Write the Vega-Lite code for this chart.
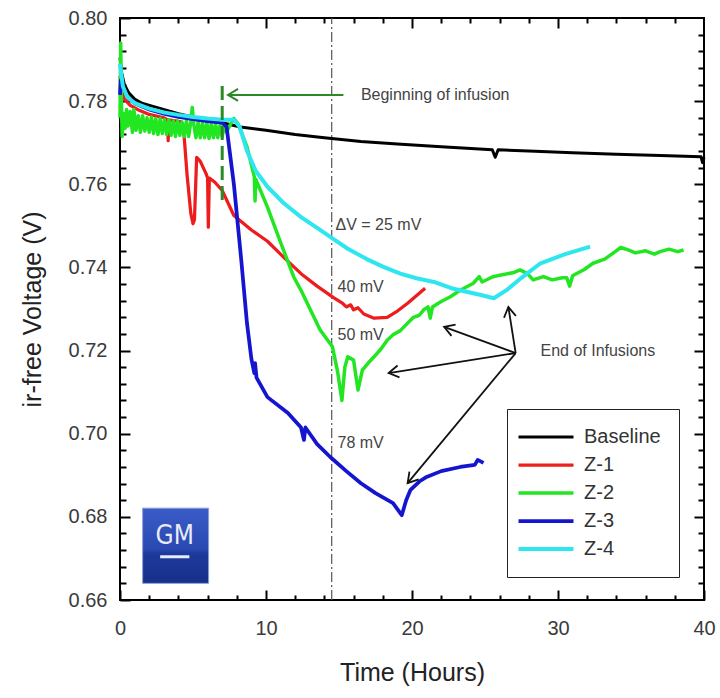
{
  "$schema": "https://vega.github.io/schema/vega-lite/v6.json",
  "width": 584,
  "height": 582,
  "autosize": {"type": "none"},
  "padding": {"left": 120, "top": 18, "right": 16, "bottom": 98},
  "background": "white",
  "config": {
    "view": {"stroke": "black", "strokeWidth": 2},
    "font": "Liberation Sans",
    "axis": {"grid": false, "domain": false, "tickColor": "black", "tickWidth": 2, "labelFlush": false, "labelOverlap": false}
  },
  "datasets": {
    "series": [
      {"s": "Baseline", "t": 0, "v": 0.7905}, {"s": "Baseline", "t": 0.1, "v": 0.787}, {"s": "Baseline", "t": 0.3, "v": 0.784}, {"s": "Baseline", "t": 0.6, "v": 0.782}, {"s": "Baseline", "t": 1, "v": 0.7805}, {"s": "Baseline", "t": 1.5, "v": 0.7795}, {"s": "Baseline", "t": 2.5, "v": 0.7785}, {"s": "Baseline", "t": 4, "v": 0.777}, {"s": "Baseline", "t": 5.5, "v": 0.7758}, {"s": "Baseline", "t": 7, "v": 0.7748}, {"s": "Baseline", "t": 8.25, "v": 0.7738}, {"s": "Baseline", "t": 10, "v": 0.773}, {"s": "Baseline", "t": 12, "v": 0.772}, {"s": "Baseline", "t": 14, "v": 0.7712}, {"s": "Baseline", "t": 16.5, "v": 0.7703}, {"s": "Baseline", "t": 19, "v": 0.7697}, {"s": "Baseline", "t": 22, "v": 0.769}, {"s": "Baseline", "t": 25.5, "v": 0.7683}, {"s": "Baseline", "t": 25.7, "v": 0.7665}, {"s": "Baseline", "t": 25.9, "v": 0.7683}, {"s": "Baseline", "t": 28, "v": 0.768}, {"s": "Baseline", "t": 31, "v": 0.7676}, {"s": "Baseline", "t": 34, "v": 0.7672}, {"s": "Baseline", "t": 37, "v": 0.7669}, {"s": "Baseline", "t": 39.8, "v": 0.7666}, {"s": "Baseline", "t": 39.9, "v": 0.7652}, {"s": "Baseline", "t": 40, "v": 0.7665},

      {"s": "Z-1", "t": 0, "v": 0.786}, {"s": "Z-1", "t": 0.1, "v": 0.7825}, {"s": "Z-1", "t": 0.3, "v": 0.7805}, {"s": "Z-1", "t": 0.7, "v": 0.779}, {"s": "Z-1", "t": 1.2, "v": 0.778}, {"s": "Z-1", "t": 2, "v": 0.7768}, {"s": "Z-1", "t": 3, "v": 0.776}, {"s": "Z-1", "t": 3.25, "v": 0.7755}, {"s": "Z-1", "t": 3.3, "v": 0.7705}, {"s": "Z-1", "t": 3.35, "v": 0.7755}, {"s": "Z-1", "t": 4.2, "v": 0.775}, {"s": "Z-1", "t": 4.35, "v": 0.7735}, {"s": "Z-1", "t": 4.6, "v": 0.762}, {"s": "Z-1", "t": 4.85, "v": 0.753}, {"s": "Z-1", "t": 5.0, "v": 0.7505}, {"s": "Z-1", "t": 5.1, "v": 0.7515}, {"s": "Z-1", "t": 5.25, "v": 0.7665}, {"s": "Z-1", "t": 5.5, "v": 0.7655}, {"s": "Z-1", "t": 5.9, "v": 0.7625}, {"s": "Z-1", "t": 6.0, "v": 0.7615}, {"s": "Z-1", "t": 6.05, "v": 0.7497}, {"s": "Z-1", "t": 6.12, "v": 0.7615}, {"s": "Z-1", "t": 6.5, "v": 0.7605}, {"s": "Z-1", "t": 7, "v": 0.7585}, {"s": "Z-1", "t": 7.8, "v": 0.7525}, {"s": "Z-1", "t": 9, "v": 0.749}, {"s": "Z-1", "t": 10.1, "v": 0.7463}, {"s": "Z-1", "t": 11.2, "v": 0.7425}, {"s": "Z-1", "t": 12.4, "v": 0.7385}, {"s": "Z-1", "t": 13.5, "v": 0.7355}, {"s": "Z-1", "t": 14.6, "v": 0.7328}, {"s": "Z-1", "t": 15.2, "v": 0.7315}, {"s": "Z-1", "t": 15.5, "v": 0.7305}, {"s": "Z-1", "t": 15.8, "v": 0.731}, {"s": "Z-1", "t": 16, "v": 0.7298}, {"s": "Z-1", "t": 16.3, "v": 0.7303}, {"s": "Z-1", "t": 16.7, "v": 0.7288}, {"s": "Z-1", "t": 17.4, "v": 0.7278}, {"s": "Z-1", "t": 18.3, "v": 0.728}, {"s": "Z-1", "t": 19, "v": 0.7295}, {"s": "Z-1", "t": 19.7, "v": 0.7314}, {"s": "Z-1", "t": 20.3, "v": 0.7332}, {"s": "Z-1", "t": 20.9, "v": 0.735},

      {"s": "Z-2", "t": 0, "v": 0.776}, {"s": "Z-2", "t": 0.05, "v": 0.794}, {"s": "Z-2", "t": 0.1, "v": 0.779}, {"s": "Z-2", "t": 0.15, "v": 0.7715}, {"s": "Z-2", "t": 0.25, "v": 0.777}, {"s": "Z-2", "t": 0.35, "v": 0.7735}, {"s": "Z-2", "t": 0.45, "v": 0.778}, {"s": "Z-2", "t": 0.55, "v": 0.774}, {"s": "Z-2", "t": 0.7, "v": 0.7775}, {"s": "Z-2", "t": 0.85, "v": 0.7725}, {"s": "Z-2", "t": 0.95, "v": 0.778}, {"s": "Z-2", "t": 1.1, "v": 0.773}, {"s": "Z-2", "t": 1.25, "v": 0.7765}, {"s": "Z-2", "t": 1.4, "v": 0.7725}, {"s": "Z-2", "t": 1.55, "v": 0.7765}, {"s": "Z-2", "t": 1.7, "v": 0.7728}, {"s": "Z-2", "t": 1.85, "v": 0.776}, {"s": "Z-2", "t": 2.0, "v": 0.7725}, {"s": "Z-2", "t": 2.15, "v": 0.7762}, {"s": "Z-2", "t": 2.3, "v": 0.7722}, {"s": "Z-2", "t": 2.45, "v": 0.7758}, {"s": "Z-2", "t": 2.6, "v": 0.772}, {"s": "Z-2", "t": 2.75, "v": 0.7758}, {"s": "Z-2", "t": 2.9, "v": 0.7722}, {"s": "Z-2", "t": 3.05, "v": 0.7755}, {"s": "Z-2", "t": 3.2, "v": 0.772}, {"s": "Z-2", "t": 3.35, "v": 0.7755}, {"s": "Z-2", "t": 3.5, "v": 0.7718}, {"s": "Z-2", "t": 3.65, "v": 0.7752}, {"s": "Z-2", "t": 3.8, "v": 0.7715}, {"s": "Z-2", "t": 3.95, "v": 0.7752}, {"s": "Z-2", "t": 4.1, "v": 0.7718}, {"s": "Z-2", "t": 4.25, "v": 0.775}, {"s": "Z-2", "t": 4.4, "v": 0.7715}, {"s": "Z-2", "t": 4.55, "v": 0.7752}, {"s": "Z-2", "t": 4.7, "v": 0.7715}, {"s": "Z-2", "t": 4.85, "v": 0.775}, {"s": "Z-2", "t": 4.95, "v": 0.7785}, {"s": "Z-2", "t": 5.05, "v": 0.7745}, {"s": "Z-2", "t": 5.2, "v": 0.7712}, {"s": "Z-2", "t": 5.35, "v": 0.775}, {"s": "Z-2", "t": 5.5, "v": 0.7712}, {"s": "Z-2", "t": 5.65, "v": 0.7748}, {"s": "Z-2", "t": 5.8, "v": 0.7712}, {"s": "Z-2", "t": 5.95, "v": 0.7748}, {"s": "Z-2", "t": 6.1, "v": 0.771}, {"s": "Z-2", "t": 6.25, "v": 0.7746}, {"s": "Z-2", "t": 6.4, "v": 0.7712}, {"s": "Z-2", "t": 6.55, "v": 0.7745}, {"s": "Z-2", "t": 6.7, "v": 0.7712}, {"s": "Z-2", "t": 6.85, "v": 0.7742}, {"s": "Z-2", "t": 7.0, "v": 0.7715}, {"s": "Z-2", "t": 7.15, "v": 0.7742}, {"s": "Z-2", "t": 7.3, "v": 0.7725}, {"s": "Z-2", "t": 7.5, "v": 0.774}, {"s": "Z-2", "t": 7.8, "v": 0.7758}, {"s": "Z-2", "t": 8.1, "v": 0.7745}, {"s": "Z-2", "t": 8.7, "v": 0.769}, {"s": "Z-2", "t": 9.2, "v": 0.7618}, {"s": "Z-2", "t": 9.25, "v": 0.756}, {"s": "Z-2", "t": 9.3, "v": 0.7612}, {"s": "Z-2", "t": 10.1, "v": 0.7545}, {"s": "Z-2", "t": 11.0, "v": 0.746}, {"s": "Z-2", "t": 11.9, "v": 0.7377}, {"s": "Z-2", "t": 12.4, "v": 0.7345}, {"s": "Z-2", "t": 13.7, "v": 0.725}, {"s": "Z-2", "t": 14.55, "v": 0.7209}, {"s": "Z-2", "t": 14.9, "v": 0.715}, {"s": "Z-2", "t": 15.2, "v": 0.708}, {"s": "Z-2", "t": 15.4, "v": 0.716}, {"s": "Z-2", "t": 15.6, "v": 0.7185}, {"s": "Z-2", "t": 16.0, "v": 0.7177}, {"s": "Z-2", "t": 16.3, "v": 0.7105}, {"s": "Z-2", "t": 16.6, "v": 0.7153}, {"s": "Z-2", "t": 17.0, "v": 0.717}, {"s": "Z-2", "t": 17.4, "v": 0.7185}, {"s": "Z-2", "t": 17.9, "v": 0.7205}, {"s": "Z-2", "t": 18.3, "v": 0.7225}, {"s": "Z-2", "t": 18.7, "v": 0.7238}, {"s": "Z-2", "t": 19.2, "v": 0.7248}, {"s": "Z-2", "t": 19.7, "v": 0.7266}, {"s": "Z-2", "t": 20.1, "v": 0.728}, {"s": "Z-2", "t": 20.5, "v": 0.7285}, {"s": "Z-2", "t": 20.8, "v": 0.7298}, {"s": "Z-2", "t": 21.1, "v": 0.7305}, {"s": "Z-2", "t": 21.25, "v": 0.7278}, {"s": "Z-2", "t": 21.4, "v": 0.7305}, {"s": "Z-2", "t": 22.0, "v": 0.7318}, {"s": "Z-2", "t": 22.6, "v": 0.7329}, {"s": "Z-2", "t": 23.3, "v": 0.7345}, {"s": "Z-2", "t": 24.2, "v": 0.7362}, {"s": "Z-2", "t": 24.6, "v": 0.7378}, {"s": "Z-2", "t": 24.8, "v": 0.7365}, {"s": "Z-2", "t": 25.5, "v": 0.7377}, {"s": "Z-2", "t": 26.1, "v": 0.7382}, {"s": "Z-2", "t": 27, "v": 0.7388}, {"s": "Z-2", "t": 27.4, "v": 0.7394}, {"s": "Z-2", "t": 27.9, "v": 0.7385}, {"s": "Z-2", "t": 28.3, "v": 0.737}, {"s": "Z-2", "t": 29, "v": 0.7378}, {"s": "Z-2", "t": 29.6, "v": 0.737}, {"s": "Z-2", "t": 30.3, "v": 0.7375}, {"s": "Z-2", "t": 30.6, "v": 0.7375}, {"s": "Z-2", "t": 30.8, "v": 0.7355}, {"s": "Z-2", "t": 31, "v": 0.738}, {"s": "Z-2", "t": 31.8, "v": 0.7395}, {"s": "Z-2", "t": 32.4, "v": 0.741}, {"s": "Z-2", "t": 33.2, "v": 0.742}, {"s": "Z-2", "t": 33.8, "v": 0.7435}, {"s": "Z-2", "t": 34.3, "v": 0.7448}, {"s": "Z-2", "t": 34.8, "v": 0.7442}, {"s": "Z-2", "t": 35.3, "v": 0.7435}, {"s": "Z-2", "t": 36, "v": 0.744}, {"s": "Z-2", "t": 36.6, "v": 0.7432}, {"s": "Z-2", "t": 37, "v": 0.7438}, {"s": "Z-2", "t": 37.6, "v": 0.7444}, {"s": "Z-2", "t": 38.2, "v": 0.7438}, {"s": "Z-2", "t": 38.6, "v": 0.7442},

      {"s": "Z-3", "t": 0, "v": 0.7815}, {"s": "Z-3", "t": 0.05, "v": 0.785}, {"s": "Z-3", "t": 0.2, "v": 0.7835}, {"s": "Z-3", "t": 0.5, "v": 0.781}, {"s": "Z-3", "t": 1, "v": 0.7795}, {"s": "Z-3", "t": 2, "v": 0.778}, {"s": "Z-3", "t": 3, "v": 0.777}, {"s": "Z-3", "t": 4, "v": 0.7762}, {"s": "Z-3", "t": 5, "v": 0.7757}, {"s": "Z-3", "t": 6, "v": 0.7752}, {"s": "Z-3", "t": 7, "v": 0.7748}, {"s": "Z-3", "t": 7.3, "v": 0.7738}, {"s": "Z-3", "t": 7.8, "v": 0.76}, {"s": "Z-3", "t": 8.3, "v": 0.742}, {"s": "Z-3", "t": 8.7, "v": 0.7265}, {"s": "Z-3", "t": 9.0, "v": 0.718}, {"s": "Z-3", "t": 9.2, "v": 0.7146}, {"s": "Z-3", "t": 9.25, "v": 0.717}, {"s": "Z-3", "t": 9.35, "v": 0.7135}, {"s": "Z-3", "t": 10.1, "v": 0.7088}, {"s": "Z-3", "t": 11.5, "v": 0.705}, {"s": "Z-3", "t": 12.4, "v": 0.7015}, {"s": "Z-3", "t": 12.6, "v": 0.6985}, {"s": "Z-3", "t": 12.7, "v": 0.7015}, {"s": "Z-3", "t": 13.5, "v": 0.6975}, {"s": "Z-3", "t": 14.4, "v": 0.6944}, {"s": "Z-3", "t": 15.5, "v": 0.691}, {"s": "Z-3", "t": 16.5, "v": 0.6881}, {"s": "Z-3", "t": 17.5, "v": 0.6857}, {"s": "Z-3", "t": 18.7, "v": 0.6833}, {"s": "Z-3", "t": 19.3, "v": 0.6804}, {"s": "Z-3", "t": 19.6, "v": 0.684}, {"s": "Z-3", "t": 19.9, "v": 0.6865}, {"s": "Z-3", "t": 20.5, "v": 0.6885}, {"s": "Z-3", "t": 21, "v": 0.6896}, {"s": "Z-3", "t": 22, "v": 0.691}, {"s": "Z-3", "t": 23.3, "v": 0.692}, {"s": "Z-3", "t": 24.3, "v": 0.6925}, {"s": "Z-3", "t": 24.5, "v": 0.6937}, {"s": "Z-3", "t": 24.9, "v": 0.693},

      {"s": "Z-4", "t": 0, "v": 0.789}, {"s": "Z-4", "t": 0.05, "v": 0.7875}, {"s": "Z-4", "t": 0.2, "v": 0.7835}, {"s": "Z-4", "t": 0.5, "v": 0.781}, {"s": "Z-4", "t": 1, "v": 0.7795}, {"s": "Z-4", "t": 2, "v": 0.7782}, {"s": "Z-4", "t": 3, "v": 0.7773}, {"s": "Z-4", "t": 4, "v": 0.7767}, {"s": "Z-4", "t": 5, "v": 0.7762}, {"s": "Z-4", "t": 6, "v": 0.7758}, {"s": "Z-4", "t": 7, "v": 0.7755}, {"s": "Z-4", "t": 7.8, "v": 0.7755}, {"s": "Z-4", "t": 8.2, "v": 0.7738}, {"s": "Z-4", "t": 8.7, "v": 0.768}, {"s": "Z-4", "t": 9.3, "v": 0.7632}, {"s": "Z-4", "t": 10.1, "v": 0.7594}, {"s": "Z-4", "t": 11.2, "v": 0.7555}, {"s": "Z-4", "t": 12.4, "v": 0.7521}, {"s": "Z-4", "t": 13.5, "v": 0.7495}, {"s": "Z-4", "t": 14.55, "v": 0.747}, {"s": "Z-4", "t": 15.6, "v": 0.7445}, {"s": "Z-4", "t": 16.9, "v": 0.742}, {"s": "Z-4", "t": 18, "v": 0.7402}, {"s": "Z-4", "t": 19.2, "v": 0.7385}, {"s": "Z-4", "t": 20.3, "v": 0.7374}, {"s": "Z-4", "t": 21.5, "v": 0.7365}, {"s": "Z-4", "t": 22.7, "v": 0.735}, {"s": "Z-4", "t": 23.8, "v": 0.7341}, {"s": "Z-4", "t": 24.8, "v": 0.7333}, {"s": "Z-4", "t": 25.6, "v": 0.7326}, {"s": "Z-4", "t": 26.5, "v": 0.7346}, {"s": "Z-4", "t": 27.5, "v": 0.7375}, {"s": "Z-4", "t": 28.8, "v": 0.741}, {"s": "Z-4", "t": 30.5, "v": 0.7432}, {"s": "Z-4", "t": 32.2, "v": 0.745}
    ],
    "refline": [{"t": 14.5, "v": 0.66, "v2": 0.80}],
    "infusionStart": [{"t": 7.0, "v": 0.7562, "v2": 0.785}],
    "greenArrow": [{"t": 15.3, "v": 0.7815, "t2": 7.4, "v2": 0.7815, "ang": 180}],
    "blackArrows": [
      {"t": 27.1, "v": 0.7194, "t2": 22.2, "v2": 0.7257, "ang": 200},
      {"t": 27.1, "v": 0.7194, "t2": 18.4, "v2": 0.7146, "ang": 171},
      {"t": 27.1, "v": 0.7194, "t2": 19.7, "v2": 0.6881, "ang": 130},
      {"t": 27.1, "v": 0.7194, "t2": 26.6, "v2": 0.7305, "ang": 261}
    ],
    "notes": [
      {"t": 16.5, "v": 0.7815, "label": "Beginning of infusion"},
      {"t": 14.76, "v": 0.7502, "label": "ΔV = 25 mV"},
      {"t": 14.9, "v": 0.7353, "label": "40 mV"},
      {"t": 14.9, "v": 0.7237, "label": "50 mV"},
      {"t": 14.9, "v": 0.6978, "label": "78 mV"},
      {"t": 28.8, "v": 0.7199, "label": "End of Infusions"}
    ],
    "logo": [{"t": 1.55, "t2": 6.07, "v": 0.6821, "v2": 0.664}],
    "logoText": [{"t": 3.75, "v": 0.6753, "label": "GM"}],
    "logoBar": [{"t": 2.75, "t2": 4.75, "v": 0.6704}]
  },
  "resolve": {"axis": {"x": "independent", "y": "independent"}},
  "layer": [
    {
      "data": {"name": "series"},
      "mark": {"type": "point", "opacity": 0},
      "encoding": {
        "x": {"field": "t", "type": "quantitative", "scale": {"domain": [0, 40], "nice": false},
          "axis": {"orient": "bottom", "values": [2, 4, 6, 8, 12, 14, 16, 18, 22, 24, 26, 28, 32, 34, 36, 38], "tickSize": -5, "labels": false, "title": null}},
        "y": {"field": "v", "type": "quantitative", "scale": {"domain": [0.66, 0.8], "nice": false, "zero": false},
          "axis": {"orient": "left", "values": [0.664, 0.668, 0.672, 0.676, 0.684, 0.688, 0.692, 0.696, 0.704, 0.708, 0.712, 0.716, 0.724, 0.728, 0.732, 0.736, 0.744, 0.748, 0.752, 0.756, 0.764, 0.768, 0.772, 0.776, 0.784, 0.788, 0.792, 0.796], "tickSize": -6, "labels": false, "title": null}}
      }
    },
    {
      "data": {"name": "series"},
      "mark": {"type": "point", "opacity": 0},
      "encoding": {
        "x": {"field": "t", "type": "quantitative", "scale": {"domain": [0, 40], "nice": false},
          "axis": {"orient": "top", "values": [2, 4, 6, 8, 12, 14, 16, 18, 22, 24, 26, 28, 32, 34, 36, 38], "tickSize": -5, "labels": false, "title": null}},
        "y": {"field": "v", "type": "quantitative", "scale": {"domain": [0.66, 0.8], "nice": false, "zero": false},
          "axis": {"orient": "right", "values": [0.664, 0.668, 0.672, 0.676, 0.684, 0.688, 0.692, 0.696, 0.704, 0.708, 0.712, 0.716, 0.724, 0.728, 0.732, 0.736, 0.744, 0.748, 0.752, 0.756, 0.764, 0.768, 0.772, 0.776, 0.784, 0.788, 0.792, 0.796], "tickSize": -6, "labels": false, "title": null}}
      }
    },
    {
      "data": {"name": "series"},
      "mark": {"type": "point", "opacity": 0},
      "encoding": {
        "x": {"field": "t", "type": "quantitative", "scale": {"domain": [0, 40], "nice": false},
          "axis": {"orient": "top", "values": [10, 20, 30], "tickSize": -10, "labels": false, "title": null}},
        "y": {"field": "v", "type": "quantitative", "scale": {"domain": [0.66, 0.8], "nice": false, "zero": false},
          "axis": {"orient": "right", "values": [0.68, 0.70, 0.72, 0.74, 0.76, 0.78], "tickSize": -10, "labels": false, "title": null}}
      }
    },
    {
      "data": {"name": "logo"},
      "mark": {"type": "rect", "fill": {"gradient": "linear", "x1": 0, "y1": 0, "x2": 0, "y2": 1, "stops": [{"offset": 0, "color": "#3a5cc8"}, {"offset": 0.55, "color": "#2a48b0"}, {"offset": 0.6, "color": "#1d3a9c"}, {"offset": 1, "color": "#16308a"}]}, "stroke": "#8aa0d8", "strokeWidth": 1},
      "encoding": {
        "x": {"field": "t", "type": "quantitative", "scale": {"domain": [0, 40], "nice": false}, "axis": null},
        "x2": {"field": "t2"},
        "y": {"field": "v", "type": "quantitative", "scale": {"domain": [0.66, 0.8], "nice": false, "zero": false}, "axis": null},
        "y2": {"field": "v2"}
      }
    },
    {
      "data": {"name": "logoText"},
      "mark": {"type": "text", "font": "DejaVu Sans Condensed", "fontSize": 26, "color": "#e8ecf8", "align": "center", "baseline": "middle"},
      "encoding": {
        "x": {"field": "t", "type": "quantitative", "scale": {"domain": [0, 40], "nice": false}, "axis": null},
        "y": {"field": "v", "type": "quantitative", "scale": {"domain": [0.66, 0.8], "nice": false, "zero": false}, "axis": null},
        "text": {"field": "label"}
      }
    },
    {
      "data": {"name": "logoBar"},
      "mark": {"type": "rule", "color": "#e8ecf8", "strokeWidth": 3},
      "encoding": {
        "x": {"field": "t", "type": "quantitative", "scale": {"domain": [0, 40], "nice": false}, "axis": null},
        "x2": {"field": "t2"},
        "y": {"field": "v", "type": "quantitative", "scale": {"domain": [0.66, 0.8], "nice": false, "zero": false}, "axis": null}
      }
    },
    {
      "data": {"name": "refline"},
      "mark": {"type": "rule", "color": "#555555", "strokeWidth": 1.2, "strokeDash": [10, 3, 2, 3]},
      "encoding": {
        "x": {"field": "t", "type": "quantitative", "scale": {"domain": [0, 40], "nice": false}, "axis": null},
        "y": {"field": "v", "type": "quantitative", "scale": {"domain": [0.66, 0.8], "nice": false, "zero": false}, "axis": null},
        "y2": {"field": "v2"}
      }
    },
    {
      "data": {"name": "series"},
      "mark": {"type": "line", "strokeJoin": "round"},
      "encoding": {
        "x": {"field": "t", "type": "quantitative", "scale": {"domain": [0, 40], "nice": false},
          "axis": {"orient": "bottom", "values": [0, 10, 20, 30, 40], "tickSize": -10, "labelFontSize": 20, "labelColor": "#3a3a3a", "labelPadding": 28, "title": "Time (Hours)", "titleFontSize": 25, "titleFontWeight": "normal", "titleColor": "#222222", "titlePadding": 22}},
        "y": {"field": "v", "type": "quantitative", "scale": {"domain": [0.66, 0.8], "nice": false, "zero": false},
          "axis": {"orient": "left", "values": [0.66, 0.68, 0.70, 0.72, 0.74, 0.76, 0.78, 0.80], "format": ".2f", "tickSize": -10, "labelFontSize": 20, "labelColor": "#3a3a3a", "labelPadding": 23, "title": "ir-free Voltage (V)", "titleFontSize": 25, "titleFontWeight": "normal", "titleColor": "#222222", "titlePadding": 23}},
        "color": {"field": "s", "type": "nominal",
          "scale": {"domain": ["Baseline", "Z-1", "Z-2", "Z-3", "Z-4"], "range": ["#000000", "#ee1c1c", "#22e622", "#1515d0", "#2ee6f0"]},
          "legend": {"title": null, "orient": "none", "legendX": 387, "legendY": 391, "strokeColor": "#222222", "padding": 18, "symbolType": "M-3,0L7,0", "symbolSize": 121, "symbolStrokeWidth": 3, "labelOffset": 39, "labelFontSize": 20, "labelColor": "#333333", "rowPadding": 8}},
        "strokeWidth": {"field": "s", "type": "nominal", "scale": {"domain": ["Baseline", "Z-1", "Z-2", "Z-3", "Z-4"], "range": [3, 4, 2.5, 3.5, 4]}, "legend": null}
      }
    },
    {
      "data": {"name": "infusionStart"},
      "mark": {"type": "rule", "color": "#2a8a2a", "strokeWidth": 3, "strokeDash": [14, 6]},
      "encoding": {
        "x": {"field": "t", "type": "quantitative", "scale": {"domain": [0, 40], "nice": false}, "axis": null},
        "y": {"field": "v", "type": "quantitative", "scale": {"domain": [0.66, 0.8], "nice": false, "zero": false}, "axis": null},
        "y2": {"field": "v2"}
      }
    },
    {
      "data": {"name": "greenArrow"},
      "mark": {"type": "rule", "color": "#2a8a2a", "strokeWidth": 2},
      "encoding": {
        "x": {"field": "t", "type": "quantitative", "scale": {"domain": [0, 40], "nice": false}, "axis": null},
        "x2": {"field": "t2"},
        "y": {"field": "v", "type": "quantitative", "scale": {"domain": [0.66, 0.8], "nice": false, "zero": false}, "axis": null},
        "y2": {"field": "v2"}
      }
    },
    {
      "data": {"name": "greenArrow"},
      "mark": {"type": "point", "shape": "M-1,-0.6L0,0L-1,0.6", "filled": false, "size": 400, "stroke": "#2a8a2a", "strokeWidth": 2, "opacity": 1},
      "encoding": {
        "x": {"field": "t2", "type": "quantitative", "scale": {"domain": [0, 40], "nice": false}, "axis": null},
        "y": {"field": "v2", "type": "quantitative", "scale": {"domain": [0.66, 0.8], "nice": false, "zero": false}, "axis": null},
        "angle": {"field": "ang", "type": "quantitative", "scale": null}
      }
    },
    {
      "data": {"name": "blackArrows"},
      "mark": {"type": "rule", "color": "#111111", "strokeWidth": 1.8},
      "encoding": {
        "x": {"field": "t", "type": "quantitative", "scale": {"domain": [0, 40], "nice": false}, "axis": null},
        "x2": {"field": "t2"},
        "y": {"field": "v", "type": "quantitative", "scale": {"domain": [0.66, 0.8], "nice": false, "zero": false}, "axis": null},
        "y2": {"field": "v2"}
      }
    },
    {
      "data": {"name": "blackArrows"},
      "mark": {"type": "point", "shape": "M-1,-0.6L0,0L-1,0.6", "filled": false, "size": 400, "stroke": "#111111", "strokeWidth": 1.8, "opacity": 1},
      "encoding": {
        "x": {"field": "t2", "type": "quantitative", "scale": {"domain": [0, 40], "nice": false}, "axis": null},
        "y": {"field": "v2", "type": "quantitative", "scale": {"domain": [0.66, 0.8], "nice": false, "zero": false}, "axis": null},
        "angle": {"field": "ang", "type": "quantitative", "scale": null}
      }
    },
    {
      "data": {"name": "notes"},
      "mark": {"type": "text", "fontSize": 16, "color": "#444444", "align": "left", "baseline": "middle"},
      "encoding": {
        "x": {"field": "t", "type": "quantitative", "scale": {"domain": [0, 40], "nice": false}, "axis": null},
        "y": {"field": "v", "type": "quantitative", "scale": {"domain": [0.66, 0.8], "nice": false, "zero": false}, "axis": null},
        "text": {"field": "label"}
      }
    }
  ]
}
